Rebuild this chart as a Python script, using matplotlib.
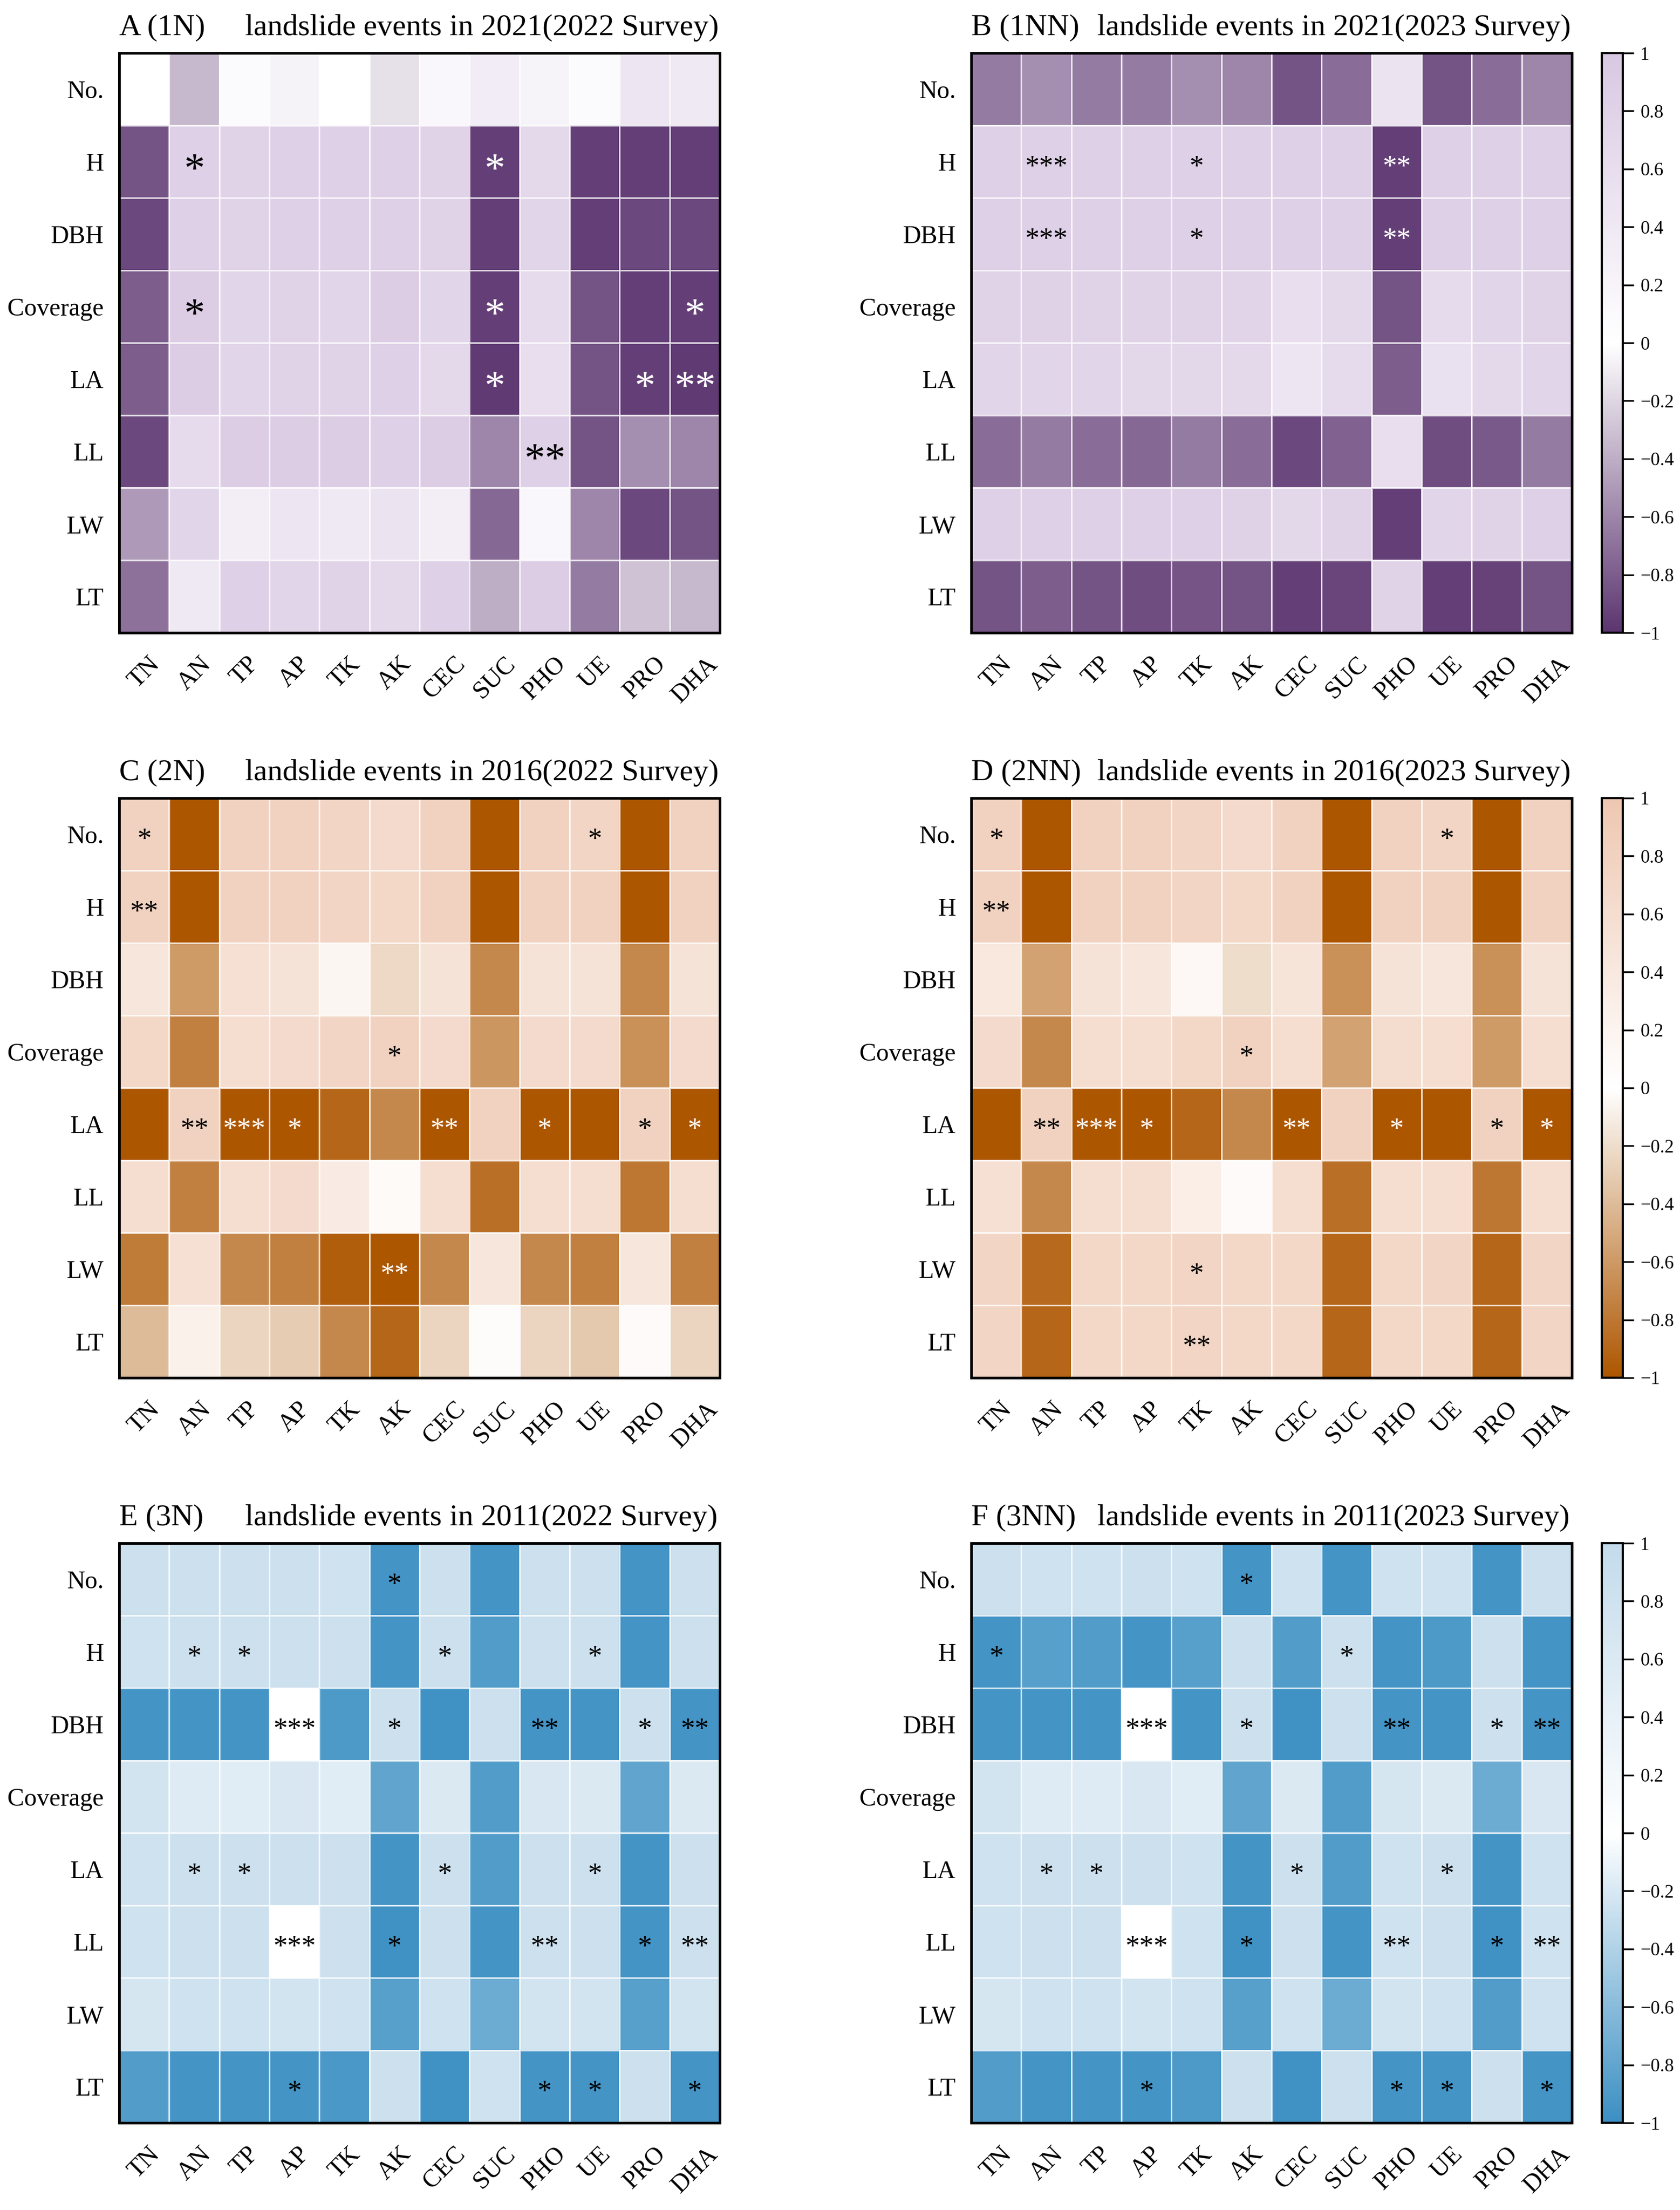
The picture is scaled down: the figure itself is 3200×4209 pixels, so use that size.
import numpy as np
import matplotlib
matplotlib.use("Agg")
import matplotlib.pyplot as plt
from matplotlib.colors import LinearSegmentedColormap

plt.rcParams['font.family'] = ['Liberation Serif', 'DejaVu Serif']

rows = ["No.", "H", "DBH", "Coverage", "LA", "LL", "LW", "LT"]
cols = ["TN", "AN", "TP", "AP", "TK", "AK", "CEC", "SUC", "PHO", "UE", "PRO", "DHA"]

# correlation values (rows x cols)
vals_A = [
    [0.00, -0.35, 0.10, -0.06, 0.00, -0.15, 0.15, 0.35, 0.20, 0.10, 0.45, 0.40],
    [-0.85, 0.85, 0.80, 0.85, 0.85, 0.85, 0.80, -0.95, 0.70, -0.95, -0.95, -0.95],
    [-0.90, 0.85, 0.80, 0.85, 0.85, 0.85, 0.80, -0.95, 0.75, -0.95, -0.90, -0.90],
    [-0.80, 0.90, 0.75, 0.80, 0.75, 0.90, 0.75, -0.95, 0.65, -0.85, -0.95, -0.95],
    [-0.80, 0.90, 0.75, 0.80, 0.80, 0.85, 0.70, -0.97, 0.60, -0.85, -0.95, -0.97],
    [-0.90, 0.65, 0.90, 0.90, 0.90, 0.85, 0.90, -0.60, 0.85, -0.85, -0.55, -0.60],
    [-0.50, 0.75, 0.30, 0.45, 0.40, 0.50, 0.30, -0.75, 0.15, -0.60, -0.90, -0.85],
    [-0.70, 0.40, 0.85, 0.75, 0.80, 0.70, 0.85, -0.40, 0.90, -0.65, -0.30, -0.35],
]
vals_B = [
    [-0.65, -0.55, -0.65, -0.65, -0.55, -0.60, -0.85, -0.72, 0.50, -0.85, -0.72, -0.60],
    [0.85, 0.85, 0.85, 0.85, 0.85, 0.85, 0.85, 0.85, -0.95, 0.85, 0.85, 0.85],
    [0.85, 0.85, 0.85, 0.85, 0.85, 0.85, 0.85, 0.85, -0.95, 0.85, 0.85, 0.85],
    [0.80, 0.82, 0.80, 0.80, 0.80, 0.78, 0.60, 0.70, -0.85, 0.65, 0.75, 0.80],
    [0.75, 0.75, 0.75, 0.72, 0.72, 0.70, 0.45, 0.65, -0.80, 0.55, 0.68, 0.75],
    [-0.72, -0.65, -0.72, -0.75, -0.65, -0.72, -0.90, -0.78, 0.60, -0.88, -0.82, -0.65],
    [0.85, 0.85, 0.85, 0.85, 0.85, 0.82, 0.72, 0.80, -0.95, 0.75, 0.80, 0.85],
    [-0.85, -0.80, -0.85, -0.88, -0.84, -0.85, -0.95, -0.92, 0.80, -0.95, -0.93, -0.85],
]
vals_C = [
    [0.80, -1.00, 0.80, 0.80, 0.75, 0.65, 0.80, -1.00, 0.80, 0.75, -1.00, 0.80],
    [0.80, -1.00, 0.80, 0.80, 0.75, 0.70, 0.80, -1.00, 0.80, 0.80, -1.00, 0.80],
    [0.45, -0.60, 0.55, 0.50, 0.15, -0.22, 0.50, -0.70, 0.50, 0.50, -0.70, 0.50],
    [0.70, -0.75, 0.60, 0.65, 0.75, 0.80, 0.65, -0.62, 0.65, 0.65, -0.65, 0.65],
    [-1.00, 0.80, -1.00, -1.00, -0.90, -0.70, -1.00, 0.80, -1.00, -1.00, 0.80, -1.00],
    [0.60, -0.75, 0.60, 0.65, 0.35, 0.10, 0.60, -0.85, 0.60, 0.60, -0.80, 0.60],
    [-0.78, 0.55, -0.70, -0.75, -0.95, -1.00, -0.70, 0.45, -0.70, -0.75, 0.45, -0.75],
    [-0.40, 0.25, -0.25, -0.30, -0.70, -0.90, -0.25, 0.05, -0.25, -0.32, 0.08, -0.25],
]
vals_D = [
    [0.80, -1.00, 0.80, 0.80, 0.75, 0.65, 0.80, -1.00, 0.80, 0.75, -1.00, 0.80],
    [0.80, -1.00, 0.80, 0.80, 0.75, 0.70, 0.80, -1.00, 0.80, 0.80, -1.00, 0.80],
    [0.42, -0.55, 0.50, 0.45, 0.12, -0.20, 0.48, -0.65, 0.50, 0.45, -0.65, 0.50],
    [0.65, -0.70, 0.60, 0.60, 0.70, 0.80, 0.60, -0.55, 0.62, 0.60, -0.60, 0.60],
    [-1.00, 0.80, -1.00, -1.00, -0.90, -0.70, -1.00, 0.80, -1.00, -1.00, 0.80, -1.00],
    [0.55, -0.70, 0.60, 0.60, 0.30, 0.08, 0.60, -0.85, 0.60, 0.60, -0.80, 0.60],
    [0.75, -0.88, 0.70, 0.70, 0.75, 0.70, 0.70, -0.90, 0.70, 0.75, -0.90, 0.75],
    [0.75, -0.90, 0.70, 0.70, 0.75, 0.70, 0.70, -0.90, 0.70, 0.70, -0.90, 0.75],
]
vals_E = [
    [0.85, 0.85, 0.85, 0.85, 0.80, -0.95, 0.85, -0.95, 0.85, 0.85, -0.95, 0.85],
    [0.80, 0.85, 0.85, 0.85, 0.85, -0.95, 0.85, -0.88, 0.85, 0.85, -0.95, 0.85],
    [-0.95, -0.95, -0.95, 0.00, -0.90, 0.85, -0.97, 0.85, -0.95, -0.95, 0.85, -0.95],
    [0.75, 0.55, 0.50, 0.65, 0.50, -0.80, 0.60, -0.88, 0.65, 0.60, -0.80, 0.60],
    [0.80, 0.85, 0.85, 0.85, 0.85, -0.95, 0.85, -0.88, 0.85, 0.85, -0.95, 0.85],
    [0.80, 0.85, 0.85, 0.00, 0.85, -0.97, 0.85, -0.95, 0.85, 0.85, -0.95, 0.85],
    [0.70, 0.80, 0.80, 0.75, 0.80, -0.85, 0.80, -0.75, 0.75, 0.75, -0.85, 0.75],
    [-0.88, -0.95, -0.95, -0.95, -0.92, 0.85, -0.97, 0.80, -0.95, -0.95, 0.85, -0.95],
]
vals_F = [
    [0.85, 0.80, 0.80, 0.85, 0.80, -0.95, 0.80, -0.95, 0.80, 0.80, -0.95, 0.85],
    [-0.95, -0.85, -0.88, -0.95, -0.85, 0.85, -0.88, 0.85, -0.95, -0.90, 0.85, -0.95],
    [-0.95, -0.95, -0.95, 0.00, -0.95, 0.85, -0.97, 0.85, -0.95, -0.95, 0.85, -0.95],
    [0.75, 0.55, 0.55, 0.65, 0.50, -0.80, 0.60, -0.88, 0.70, 0.60, -0.75, 0.65],
    [0.80, 0.85, 0.85, 0.85, 0.80, -0.95, 0.85, -0.88, 0.80, 0.85, -0.95, 0.80],
    [0.80, 0.85, 0.85, 0.00, 0.80, -0.97, 0.85, -0.95, 0.80, 0.85, -0.97, 0.80],
    [0.70, 0.80, 0.80, 0.75, 0.80, -0.85, 0.80, -0.75, 0.75, 0.80, -0.88, 0.80],
    [-0.88, -0.95, -0.95, -0.95, -0.90, 0.85, -0.97, 0.85, -0.95, -0.95, 0.85, -0.95],
]

# significance marks (row, col, stars)
sig_A = [("H", "AN", "*"), ("H", "SUC", "*"),
         ("Coverage", "AN", "*"), ("Coverage", "SUC", "*"), ("Coverage", "DHA", "*"),
         ("LA", "SUC", "*"), ("LA", "PRO", "*"), ("LA", "DHA", "**"),
         ("LL", "PHO", "**")]
sig_B = [("H", "AN", "***"), ("H", "TK", "*"), ("H", "PHO", "**"),
         ("DBH", "AN", "***"), ("DBH", "TK", "*"), ("DBH", "PHO", "**")]
sig_C = [("No.", "TN", "*"), ("No.", "UE", "*"), ("H", "TN", "**"),
         ("Coverage", "AK", "*"),
         ("LA", "AN", "**"), ("LA", "TP", "***"), ("LA", "AP", "*"), ("LA", "CEC", "**"),
         ("LA", "PHO", "*"), ("LA", "PRO", "*"), ("LA", "DHA", "*"),
         ("LW", "AK", "**")]
sig_D = [("No.", "TN", "*"), ("No.", "UE", "*"), ("H", "TN", "**"),
         ("Coverage", "AK", "*"),
         ("LA", "AN", "**"), ("LA", "TP", "***"), ("LA", "AP", "*"), ("LA", "CEC", "**"),
         ("LA", "PHO", "*"), ("LA", "PRO", "*"), ("LA", "DHA", "*"),
         ("LW", "TK", "*"), ("LT", "TK", "**")]
sig_E = [("No.", "AK", "*"),
         ("H", "AN", "*"), ("H", "TP", "*"), ("H", "CEC", "*"), ("H", "UE", "*"),
         ("DBH", "AP", "***"), ("DBH", "AK", "*"), ("DBH", "PHO", "**"), ("DBH", "PRO", "*"),
         ("DBH", "DHA", "**"),
         ("LA", "AN", "*"), ("LA", "TP", "*"), ("LA", "CEC", "*"), ("LA", "UE", "*"),
         ("LL", "AP", "***"), ("LL", "AK", "*"), ("LL", "PHO", "**"), ("LL", "PRO", "*"),
         ("LL", "DHA", "**"),
         ("LT", "AP", "*"), ("LT", "PHO", "*"), ("LT", "UE", "*"), ("LT", "DHA", "*")]
sig_F = [("No.", "AK", "*"),
         ("H", "TN", "*"), ("H", "SUC", "*"),
         ("DBH", "AP", "***"), ("DBH", "AK", "*"), ("DBH", "PHO", "**"), ("DBH", "PRO", "*"),
         ("DBH", "DHA", "**"),
         ("LA", "AN", "*"), ("LA", "TP", "*"), ("LA", "CEC", "*"), ("LA", "UE", "*"),
         ("LL", "AP", "***"), ("LL", "AK", "*"), ("LL", "PHO", "**"), ("LL", "PRO", "*"),
         ("LL", "DHA", "**"),
         ("LT", "AP", "*"), ("LT", "PHO", "*"), ("LT", "UE", "*"), ("LT", "DHA", "*")]

cmap_purple = LinearSegmentedColormap.from_list("pu", ["#5c3570", "#ffffff", "#d8c8e2"])
cmap_orange = LinearSegmentedColormap.from_list("or", ["#ad5600", "#ffffff", "#eec7b1"])
cmap_blue = LinearSegmentedColormap.from_list("bl", ["#3b8fc3", "#ffffff", "#c3dbeb"])

fig = plt.figure(figsize=(3200 / 300, 4209 / 300), dpi=300)

W = 1144 / 3200
H = 1104 / 4209
lefts = [227 / 3200, 1850 / 3200]
bottoms = [1 - 1205 / 4209, 1 - 2624 / 4209, 1 - 4043 / 4209]
cb_left = 3051 / 3200
cb_w = 40 / 3200

panels = [
    (0, 0, vals_A, sig_A, cmap_purple, "A (1N)", "2021(2022 Survey)", 19, True),
    (0, 1, vals_B, sig_B, cmap_purple, "B (1NN)", "2021(2023 Survey)", 13, True),
    (1, 0, vals_C, sig_C, cmap_orange, "C (2N)", "2016(2022 Survey)", 13, True),
    (1, 1, vals_D, sig_D, cmap_orange, "D (2NN)", "2016(2023 Survey)", 13, True),
    (2, 0, vals_E, sig_E, cmap_blue, "E (3N)", "2011(2022 Survey)", 13, False),
    (2, 1, vals_F, sig_F, cmap_blue, "F (3NN)", "2011(2023 Survey)", 13, False),
]

cb_ticks = [1, 0.8, 0.6, 0.4, 0.2, 0, -0.2, -0.4, -0.6, -0.8, -1]
cb_labels = ["1", "0.8", "0.6", "0.4", "0.2", "0",
             "\u22120.2", "\u22120.4", "\u22120.6", "\u22120.8", "\u22121"]

for r, c, vals, sig, cmap, tag, year, star_fs, white_ok in panels:
    data = np.array(vals)
    ax = fig.add_axes([lefts[c], bottoms[r], W, H])
    mesh = ax.pcolormesh(data, cmap=cmap, vmin=-1, vmax=1,
                         edgecolors=(1, 1, 1, 0.75), linewidth=0.6)
    ax.set_xlim(0, len(cols))
    ax.set_ylim(len(rows), 0)
    ax.set_xticks(np.arange(len(cols)) + 0.5)
    ax.set_xticklabels(cols, rotation=45, ha="center", fontsize=11.5)
    ax.set_yticks(np.arange(len(rows)) + 0.5)
    ax.set_yticklabels(rows, fontsize=11.5)
    ax.tick_params(axis="x", length=0, pad=9)
    ax.tick_params(axis="y", length=0, pad=7)
    for sp in ax.spines.values():
        sp.set_linewidth(1.2)

    for rn, cn, s in sig:
        i = rows.index(rn)
        j = cols.index(cn)
        color = "white" if (white_ok and data[i, j] < -0.6) else "black"
        ax.annotate(s, (j + 0.5, i + 0.5), xytext=(0, -0.47 * star_fs),
                    textcoords="offset points", ha="center", va="baseline",
                    fontsize=star_fs, color=color)

    ax.text(0, 1.031, tag, transform=ax.transAxes, ha="left", va="baseline", fontsize=14)
    ax.text(0.21, 1.031, "landslide events in " + year, transform=ax.transAxes,
            ha="left", va="baseline", fontsize=14)

    if c == 1:
        cax = fig.add_axes([cb_left, bottoms[r], cb_w, H])
        cb = fig.colorbar(mesh, cax=cax, ticks=cb_ticks)
        cb.ax.set_yticklabels(cb_labels, fontsize=8.5)
        cb.ax.tick_params(length=5, width=0.8, pad=3)
        cb.outline.set_linewidth(1.0)

fig.savefig("out.png", dpi=300)
